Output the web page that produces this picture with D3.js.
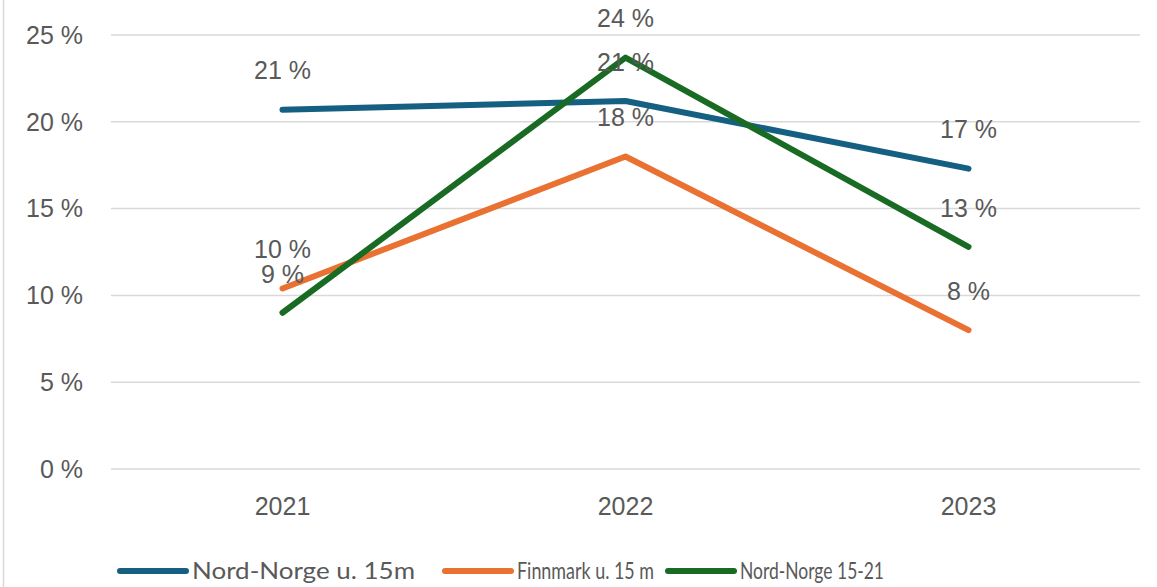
<!DOCTYPE html>
<html>
<head>
<meta charset="utf-8">
<script src="https://cdn.jsdelivr.net/npm/d3@7"></script>
<style>
  body { margin: 0; background: #fff; }
  text { font-family: "Liberation Sans", Arial, sans-serif; fill: #595959; }
  .legend text { font-family: Lato, "Liberation Sans", sans-serif; }
</style>
</head>
<body>
<div id="graphic"></div>
<script>
// DATA
var years = ["2021", "2022", "2023"];
var nordNorgeU15 = [20.7, 21.2, 17.3];
var finnmarkU15 = [10.4, 18.0, 8.0];
var nordNorge1521 = [9.0, 23.7, 12.8];
var seriesNames = ["Nord-Norge u. 15m", "Finnmark u. 15 m", "Nord-Norge 15-21"];
var yTicks = [0, 5, 10, 15, 20, 25];

var colors = ["#156082", "#E97132", "#196B24"];
var series = [nordNorgeU15, finnmarkU15, nordNorge1521].map(function (vals, i) {
  return { name: seriesNames[i], color: colors[i], values: vals.map(function (v, j) { return { year: years[j], v: v }; }) };
});

var W = 1157, H = 587;
var plot = { left: 111, right: 1140, top: 35, bottom: 469 };

var svg = d3.select("#graphic").append("svg")
  .attr("width", W)
  .attr("height", H);

// left frame edge
svg.append("line")
  .attr("x1", 3.5).attr("x2", 3.5).attr("y1", 0).attr("y2", H)
  .attr("stroke", "#d9d9d9").attr("stroke-width", 1.5);

var xScale = d3.scalePoint()
  .domain(years)
  .range([plot.left, plot.right])
  .padding(0.5);

var yScale = d3.scaleLinear()
  .domain([0, 25])
  .range([plot.bottom, plot.top]);

// GRID
svg.append("g").selectAll("line")
  .data(yTicks)
  .enter().append("line")
  .attr("x1", plot.left).attr("x2", plot.right)
  .attr("y1", d => yScale(d)).attr("y2", d => yScale(d))
  .attr("stroke", "#d9d9d9").attr("stroke-width", 1.5);

// Y labels
svg.append("g").selectAll("text")
  .data(yTicks)
  .enter().append("text")
  .attr("x", 83)
  .attr("y", d => yScale(d))
  .attr("dy", "0.35em")
  .attr("text-anchor", "end")
  .style("font-size", "25px")
  .text(d => d + " %");

// X labels
svg.append("g").selectAll("text")
  .data(years)
  .enter().append("text")
  .attr("x", d => xScale(d))
  .attr("y", 506)
  .attr("dy", "0.35em")
  .attr("text-anchor", "middle")
  .style("font-size", "25px")
  .text(d => d);

// LINES
var line = d3.line()
  .x(d => xScale(d.year))
  .y(d => yScale(d.v));

svg.append("g").selectAll("path")
  .data(series)
  .enter().append("path")
  .attr("d", d => line(d.values))
  .attr("fill", "none")
  .attr("stroke", d => d.color)
  .attr("stroke-width", 6)
  .attr("stroke-linecap", "round")
  .attr("stroke-linejoin", "round");

// DATA LABELS
series.forEach(function (s) {
  svg.append("g").selectAll("text")
    .data(s.values)
    .enter().append("text")
    .attr("x", d => xScale(d.year))
    .attr("y", d => yScale(d.v) - 39)
    .attr("dy", "0.35em")
    .attr("text-anchor", "middle")
    .style("font-size", "25px")
    .text(d => Math.round(d.v) + " %");
});

// LEGEND
var legendX = [120, 445, 668];
var legendW = [223, 137, 144];
var legend = svg.append("g").attr("class", "legend");
series.forEach(function (s, i) {
  var g = legend.append("g").attr("transform", "translate(" + legendX[i] + ",571)");
  g.append("line")
    .attr("x1", 0).attr("x2", 66)
    .attr("stroke", s.color).attr("stroke-width", 6)
    .attr("stroke-linecap", "round");
  g.append("text")
    .attr("x", 72)
    .attr("dy", "0.35em")
    .attr("textLength", legendW[i])
    .attr("lengthAdjust", "spacingAndGlyphs")
    .style("font-size", "23px")
    .text(s.name);
});
</script>
</body>
</html>
